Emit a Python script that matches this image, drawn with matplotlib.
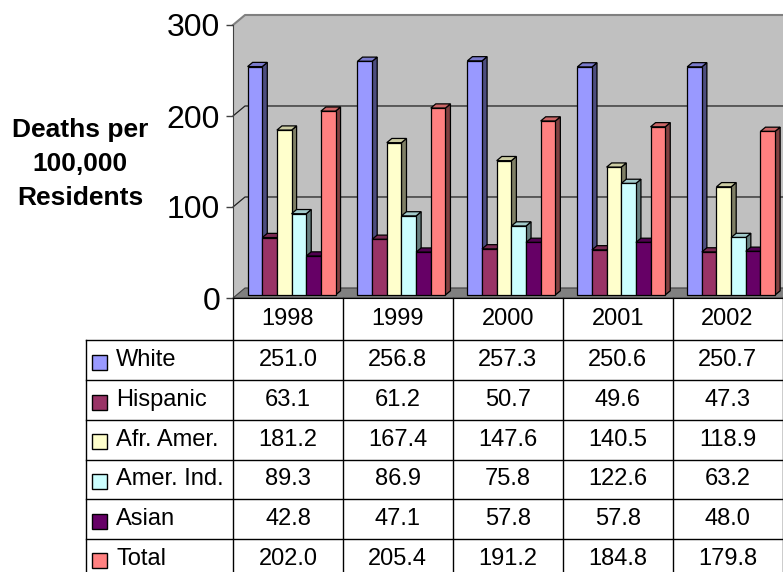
import matplotlib
matplotlib.use("Agg")
import matplotlib.pyplot as plt
import matplotlib.colors as mcolors
from matplotlib.patches import Polygon, Rectangle
import numpy as np

years = ["1998", "1999", "2000", "2001", "2002"]
groups = ["White", "Hispanic", "Afr. Amer.", "Amer. Ind.", "Asian", "Total"]
white = [251.0, 256.8, 257.3, 250.6, 250.7]
hispanic = [63.1, 61.2, 50.7, 49.6, 47.3]
afr_amer = [181.2, 167.4, 147.6, 140.5, 118.9]
amer_ind = [89.3, 86.9, 75.8, 122.6, 63.2]
asian = [42.8, 47.1, 57.8, 57.8, 48.0]
total = [202.0, 205.4, 191.2, 184.8, 179.8]
colors = ["#9999FF", "#993366", "#FFFFCC", "#CCFFFF", "#660066", "#FF8080"]
series = [white, hispanic, afr_amer, amer_ind, asian, total]

plt.rcParams['font.family'] = ['Liberation Sans', 'DejaVu Sans']

W, H = 783, 572
fig = plt.figure(figsize=(W / 100, H / 100), dpi=100)

# front plane of the 3-D plot, in category / value units
ax = fig.add_axes([233 / W, 1 - 298 / H, 549.5 / W, 273 / H])
ax.set_xlim(0, 5)
ax.set_ylim(0, 300)
ax.patch.set_visible(False)
for s in ['top', 'right']:
    ax.spines[s].set_visible(False)
ax.spines['left'].set_color('#404040')
ax.spines['bottom'].set_color('black')
ax.set_xticks([])
ax.set_yticks([0, 100, 200, 300])
ax.tick_params(axis='y', length=5, width=1, color='#404040', pad=4.3, labelsize=23)

n = len(series)
DX = 12 / 109.9      # depth offset in category units
DY = 11              # depth offset in value units
f0, f1 = 0.3, 0.72   # bar front / back depth fraction
w = 1 / (n + 1.5)


def shade(c, k):
    return tuple(np.array(mcolors.to_rgb(c)) * k)


# walls and floor
ax.add_patch(Polygon([(DX, DY), (5 + DX, DY), (5 + DX, 300 + DY), (DX, 300 + DY)],
                     closed=True, fc='#C0C0C0', ec='none', clip_on=False, zorder=0.5))
ax.add_patch(Polygon([(0, 0), (DX, DY), (DX, 300 + DY), (0, 300)],
                     closed=True, fc='#C0C0C0', ec='none', clip_on=False, zorder=0.5))
ax.add_patch(Polygon([(0, 0), (5, 0), (5 + DX, DY), (DX, DY)],
                     closed=True, fc='#808080', ec='#404040', lw=0.8, clip_on=False, zorder=0.6))
ax.plot([0, DX, 5 + DX], [300, 300 + DY, 300 + DY], color='#808080', lw=1.5,
        clip_on=False, zorder=0.7)
for v in [100, 200]:
    ax.plot([0, DX, 5 + DX], [v, v + DY, v + DY], color='#202020', lw=0.9,
            clip_on=False, zorder=0.7)

# bars
d = f1 - f0
z = 1.0
for i in range(len(years)):
    for j in range(n):
        v = series[j][i]
        x0 = i + 0.75 * w + j * w + f0 * DX
        y0 = f0 * DY
        c = colors[j]
        side = Polygon([(x0 + w, y0), (x0 + w + d * DX, y0 + d * DY),
                        (x0 + w + d * DX, y0 + v + d * DY), (x0 + w, y0 + v)],
                       closed=True, fc=shade(c, 0.5), ec='black', lw=0.9,
                       clip_on=False, zorder=z)
        top = Polygon([(x0, y0 + v), (x0 + w, y0 + v),
                       (x0 + w + d * DX, y0 + v + d * DY), (x0 + d * DX, y0 + v + d * DY)],
                      closed=True, fc=shade(c, 0.8), ec='black', lw=0.9,
                      clip_on=False, zorder=z)
        front = Rectangle((x0, y0), w, v, fc=c, ec='black', lw=0.9,
                          clip_on=False, zorder=z)
        ax.add_patch(side)
        ax.add_patch(top)
        ax.add_patch(front)
        z += 0.001

# data table below the plot
row_h = 39.7
hdr = 1.07
tax = fig.add_axes([86 / W, 0, (782.5 - 86) / W, 1 - 298 / H])
xmin = -(233 - 86) / 109.9
tax.set_xlim(xmin, 5)
tax.set_ylim((H - 298) / row_h, 0)
tax.axis('off')
bottom = (H - 298) / row_h + 0.5
for k in range(len(years) + 1):
    tax.plot([k, k], [0, bottom], color='black', lw=1, clip_on=False)
tax.plot([xmin, xmin], [hdr, bottom], color='black', lw=1, clip_on=False)
for k in range(n):
    tax.plot([xmin, 5], [hdr + k, hdr + k], color='black', lw=1, clip_on=False)

for i, yr in enumerate(years):
    tax.text(i + 0.5, hdr / 2, yr, ha='center', va='center', fontsize=17)
for k in range(n):
    yc = hdr + k + 0.5
    for i in range(len(years)):
        tax.text(i + 0.5, yc, f"{series[k][i]:.1f}", ha='center', va='center', fontsize=17)
    kw = 15 / 109.9
    kh = 15 / row_h
    tax.add_patch(Rectangle((xmin + 6 / 109.9, yc - kh / 2 + 0.05), kw, kh,
                            fc=colors[k], ec='black', lw=1))
    tax.text(xmin + 30 / 109.9, yc, groups[k], ha='left', va='center', fontsize=17)

fig.text(80 / W, 1 - 164 / H, "Deaths per\n100,000\nResidents", ha='center', va='center',
         fontsize=19, fontweight='bold', linespacing=1.55)

fig.savefig("out.png", dpi=100)
